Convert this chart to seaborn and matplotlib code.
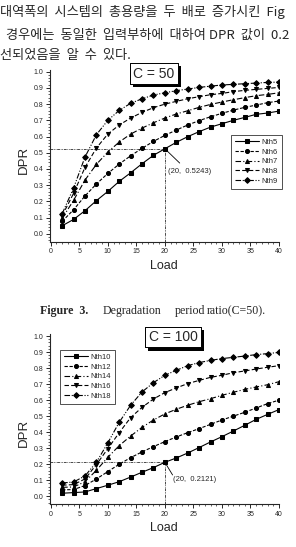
import pandas as pd
import seaborn as sns
import matplotlib.pyplot as plt
import matplotlib.patheffects as pe

# values
load = [2, 4, 6, 8, 10, 12, 14, 16, 18, 20, 22, 24, 26, 28, 30, 32, 34, 36, 38, 40]

nth5 = [0.049, 0.088, 0.142, 0.204, 0.261, 0.323, 0.376, 0.432, 0.484, 0.5243,
        0.564, 0.599, 0.630, 0.658, 0.679, 0.700, 0.718, 0.737, 0.745, 0.757]
nth6 = [0.076, 0.148, 0.233, 0.307, 0.372, 0.430, 0.481, 0.527, 0.570, 0.607,
        0.640, 0.671, 0.698, 0.722, 0.743, 0.763, 0.780, 0.794, 0.809, 0.819]
nth7 = [0.095, 0.206, 0.331, 0.428, 0.504, 0.566, 0.615, 0.652, 0.685, 0.714,
        0.739, 0.759, 0.780, 0.798, 0.813, 0.827, 0.840, 0.852, 0.860, 0.870]
nth8 = [0.111, 0.249, 0.409, 0.529, 0.615, 0.671, 0.714, 0.749, 0.778, 0.800,
        0.817, 0.833, 0.846, 0.858, 0.866, 0.877, 0.885, 0.891, 0.897, 0.903]
nth9 = [0.123, 0.282, 0.473, 0.611, 0.700, 0.761, 0.805, 0.833, 0.856, 0.870,
        0.883, 0.893, 0.903, 0.911, 0.918, 0.922, 0.926, 0.930, 0.934, 0.936]

nth10 = [0.019, 0.023, 0.027, 0.048, 0.069, 0.091, 0.120, 0.150, 0.179, 0.2121,
         0.239, 0.270, 0.304, 0.339, 0.372, 0.407, 0.443, 0.480, 0.511, 0.541]
nth12 = [0.040, 0.042, 0.067, 0.108, 0.154, 0.200, 0.241, 0.277, 0.310, 0.341,
         0.370, 0.397, 0.422, 0.449, 0.476, 0.500, 0.524, 0.551, 0.578, 0.600]
nth14 = [0.056, 0.058, 0.091, 0.162, 0.243, 0.316, 0.376, 0.430, 0.476, 0.514,
         0.543, 0.568, 0.590, 0.609, 0.630, 0.649, 0.667, 0.682, 0.696, 0.715]
nth16 = [0.069, 0.073, 0.108, 0.198, 0.297, 0.397, 0.491, 0.555, 0.607, 0.647,
         0.676, 0.703, 0.723, 0.742, 0.755, 0.771, 0.782, 0.794, 0.805, 0.815]
nth18 = [0.083, 0.089, 0.127, 0.212, 0.333, 0.462, 0.568, 0.651, 0.709, 0.755,
         0.786, 0.815, 0.834, 0.848, 0.859, 0.867, 0.875, 0.884, 0.890, 0.898]

top_names = ["Nth5", "Nth6", "Nth7", "Nth8", "Nth9"]
bottom_names = ["Nth10", "Nth12", "Nth14", "Nth16", "Nth18"]
yticks = [0.0, 0.1, 0.2, 0.3, 0.4, 0.5, 0.6, 0.7, 0.8, 0.9, 1.0]
xticks = [0, 5, 10, 15, 20, 25, 30, 35, 40]

text_lines = ["대역폭의  시스템의  총용량을  두  배로  증가시킨  Fig",
              "  경우에는  동일한  입력부하에  대하여 DPR  값이  0.2",
              "선되었음을  알  수  있다."]

sns.set_style("ticks")
plt.rcParams["font.family"] = ["Liberation Sans", "DejaVu Sans"]

marker_list = ["s", "o", "^", "v", "D"]
dash_list = ["", (3, 1.5), (5, 2, 1, 2), (4, 2), (5, 1.5, 1, 1.5, 1, 1.5)]


def long_table(names, series):
    rows = []
    for name, vals in zip(names, series):
        for x, y in zip(load, vals):
            rows.append({"Load": x, "DPR": y, "Series": name})
    return pd.DataFrame(rows)


def draw_panel(ax, names, series, px, py, label, box_text, box_xy, tx, ty, lx, ly,
               leg_anchor, ylab_y):
    df = long_table(names, series)
    sns.lineplot(data=df, x="Load", y="DPR", style="Series", style_order=names,
                 markers=dict(zip(names, marker_list)),
                 dashes=dict(zip(names, dash_list)),
                 color="black", linewidth=0.8, markersize=2.9,
                 markeredgecolor="black", legend=False, ax=ax)
    handles = list(ax.lines[:5])
    ax.set_xlim(-0.2, 40.05)
    ax.set_ylim(-0.05, 1.01)
    ax.set_xticks(xticks)
    ax.set_yticks(yticks)
    ax.set_yticklabels([f"{v:.1f}" for v in yticks])
    ax.minorticks_on()
    ax.tick_params(which="major", direction="out", length=3, width=0.7, labelsize=5, pad=1.5)
    ax.tick_params(which="minor", direction="out", length=1.6, width=0.5)
    for s in ["top", "right"]:
        ax.spines[s].set_visible(False)
    for s in ["left", "bottom"]:
        ax.spines[s].set_linewidth(0.8)
    ax.set_xlabel("Load", fontsize=9)
    ax.set_ylabel("DPR", fontsize=9.5)
    ax.xaxis.set_label_coords(0.498, -0.105)
    ax.yaxis.set_label_coords(-0.085, ylab_y)

    # guide lines to the marked point
    ax.plot([-0.2, px], [py, py], color="black", lw=0.5, dashes=(4, 1.2, 1, 1.2, 1, 1.2))
    ax.plot([px, px], [-0.05, py], color="black", lw=0.5, dashes=(4, 1.2, 1, 1.2, 1, 1.2))
    ax.plot([px, lx], [py, ly], color="black", lw=0.6)
    ax.text(tx, ty, label, fontsize=5.5, ha="left", va="center")

    leg = ax.legend(handles, names, loc="upper left", bbox_to_anchor=leg_anchor,
                    bbox_transform=fig.transFigure, fontsize=5.5, frameon=True,
                    fancybox=False, edgecolor="black", handlelength=3.2,
                    handletextpad=0.3, borderpad=0.5, labelspacing=0.3,
                    borderaxespad=0)
    leg.get_frame().set_linewidth(0.6)

    t = fig.text(box_xy[0], box_xy[1], box_text, fontsize=10, ha="center", va="center",
                 bbox=dict(boxstyle="square,pad=0.25", fc="white", ec="black", lw=0.7))
    t.get_bbox_patch().set_path_effects(
        [pe.withSimplePatchShadow(offset=(2.2, -2.2), shadow_rgbFace="black", alpha=1),
         pe.Normal()])


W, H = 296, 547
fig = plt.figure(figsize=(W / 100, H / 100), dpi=100)

ax1 = fig.add_axes([49.6 / W, 1 - 241.8 / H, 229.7 / W, 171.7 / H])
ax2 = fig.add_axes([49.6 / W, 1 - 504.3 / H, 229.7 / W, 169.9 / H])

draw_panel(ax1, top_names, [nth5, nth6, nth7, nth8, nth9], 20, 0.5243,
           "(20,  0.5243)", "C = 50", (154 / W, 1 - 73.5 / H), 20.55, 0.384, 22.6, 0.436,
           (231 / W, 1 - 135 / H), 0.476)
draw_panel(ax2, bottom_names, [nth10, nth12, nth14, nth16, nth18], 20, 0.2121,
           "(20,  0.2121)", "C = 100", (173 / W, 1 - 337 / H), 21.4, 0.102, 21.35, 0.133,
           (60 / W, 1 - 350 / H), 0.421)

# Korean body text above the first chart
for txt, yy in zip(text_lines, [12, 35, 56]):
    fig.text(0, 1 - yy / H, txt, fontsize=9.5, ha="left", va="center",
             family=["Noto Sans CJK KR", "DejaVu Sans"])

# caption between the charts
cap_y = 1 - 311 / H
fig.text(40 / W, cap_y, "Figure  3.", fontsize=8.6, ha="left", va="center",
         family="Liberation Serif", weight="bold")
for word, xx in zip(["Degradation", "period", "ratio(C=50)."], [103, 175, 207]):
    fig.text(xx / W, cap_y, word, fontsize=8.6, ha="left", va="center",
             family="Liberation Serif")

fig.savefig("out.png", dpi=100)
